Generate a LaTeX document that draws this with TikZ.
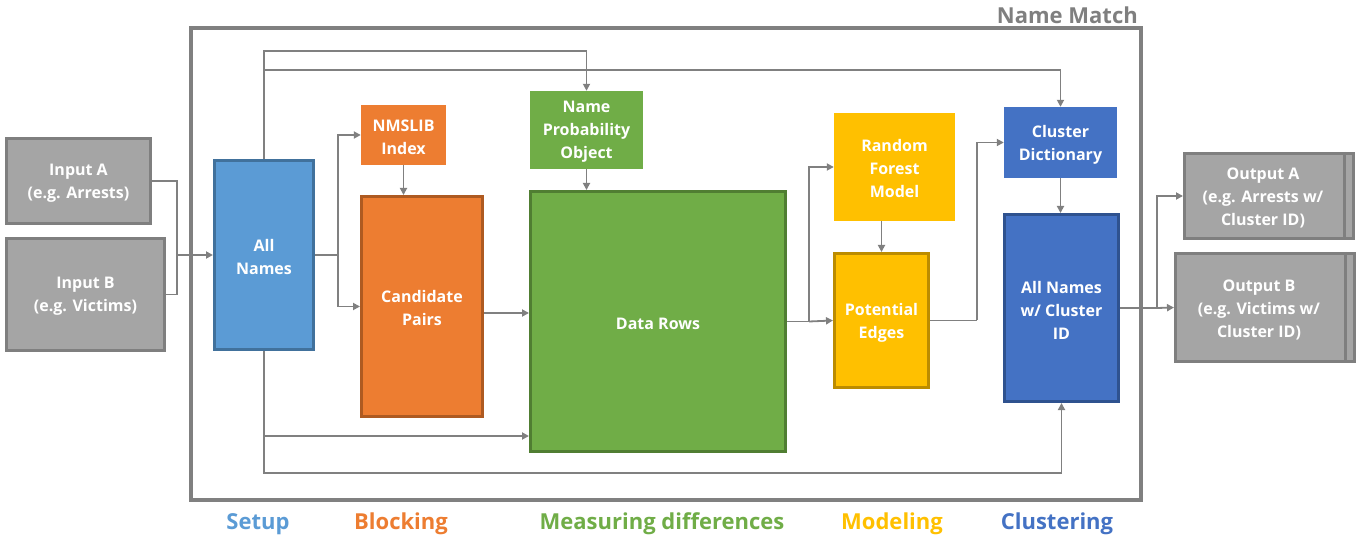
\documentclass[tikz,border=0pt]{standalone}
\usepackage{fontspec}
\setmainfont{Open Sans}
\usetikzlibrary{arrows.meta}
\definecolor{cgray}{HTML}{808080}
\definecolor{gfill}{HTML}{A5A5A5}
\definecolor{gline}{HTML}{7F7F7F}
\definecolor{cblue}{HTML}{5B9BD5}
\definecolor{cbluedk}{HTML}{41719C}
\definecolor{corange}{HTML}{ED7D31}
\definecolor{corangedk}{HTML}{AE5A21}
\definecolor{cgreen}{HTML}{70AD47}
\definecolor{cgreendk}{HTML}{507E32}
\definecolor{cyellow}{HTML}{FFC000}
\definecolor{cyellowdk}{HTML}{BC8C00}
\definecolor{cdblue}{HTML}{4472C4}
\definecolor{cdbluedk}{HTML}{2F528F}
\tikzset{
  txt/.style={inner sep=0pt, align=center, text=white, yshift=-2pt,
    font=\fontsize{16}{23}\selectfont\bfseries},
  box/.style={rectangle, inner sep=0pt, label={[txt]center:{#1}}},
  bordered/.style={box={#1}, line width=3pt},
  conn/.style={draw=cgray, line width=1.8pt},
  arr/.style={conn, -{Triangle[length=7pt,width=7pt]}},
  phase/.style={font=\fontsize{22}{26}\selectfont\bfseries, inner sep=0pt}
}
\begin{document}
\begin{tikzpicture}[x=1pt,y=-1pt]
\useasboundingbox (0,0) rectangle (1363,537);
% frame
\draw[draw=cgray, line width=4pt] (191,28) rectangle (1141,500);
\node[phase, text=gline, anchor=east] (title) at (1138,15) {Name Match};
% inputs
\node[bordered={Input A\\(e.g. Arrests)}, fill=gfill, draw=gline, minimum width=144pt, minimum height=85pt] (inA) at (78.5,181) {};
\node[bordered={Input B\\(e.g. Victims)}, fill=gfill, draw=gline, minimum width=158pt, minimum height=112pt] (inB) at (85.5,294.5) {};
% setup
\node[bordered={All\\Names}, fill=cblue, draw=cbluedk, minimum width=99pt, minimum height=189pt] (alln) at (264,255) {};
% blocking
\node[box={NMSLIB\\Index}, fill=corange, minimum width=85pt, minimum height=60pt] (nms) at (403.5,135) {};
\node[bordered={Candidate\\Pairs}, fill=corange, draw=corangedk, minimum width=121pt, minimum height=220pt] (cp) at (422,306.5) {};
% measuring
\node[box={Name\\Probability\\Object}, fill=cgreen, minimum width=113pt, minimum height=78pt] (npo) at (586.5,130) {};
\node[bordered={Data Rows}, fill=cgreen, draw=cgreendk, minimum width=255pt, minimum height=260pt] (dr) at (658,321.5) {};
% modeling
\node[box={Random\\Forest\\Model}, fill=cyellow, minimum width=121pt, minimum height=108pt] (rfm) at (894.5,167) {};
\node[bordered={Potential\\Edges}, fill=cyellow, draw=cyellowdk, minimum width=94pt, minimum height=134pt] (pe) at (881.5,320.5) {};
% clustering
\node[box={Cluster\\Dictionary}, fill=cdblue, minimum width=113pt, minimum height=71pt] (cd) at (1060.5,142.5) {};
\node[bordered={All Names\\w/ Cluster\\ID}, fill=cdblue, draw=cdbluedk, minimum width=114pt, minimum height=187pt] (anc) at (1061.5,308) {};
% outputs
\node[bordered={}, fill=gfill, draw=gline, minimum width=169pt, minimum height=85pt] (outA) at (1269,196) {};
\node[txt] (outAt) at (1263,196) {Output A\\(e.g. Arrests w/\\Cluster ID)};
\draw[draw=gline, line width=3pt] ([xshift=-10.5pt]outA.north east) -- ([xshift=-10.5pt]outA.south east);
\node[bordered={}, fill=gfill, draw=gline, minimum width=179pt, minimum height=108pt] (outB) at (1265,307.5) {};
\node[txt] (outBt) at (1259,307.5) {Output B\\(e.g. Victims w/\\Cluster ID)};
\draw[draw=gline, line width=3pt] ([xshift=-10.5pt]outB.north east) -- ([xshift=-10.5pt]outB.south east);
% junction coordinates
\coordinate (jin) at (177,255);
\coordinate (t1) at (264,51);
\coordinate (t2) at (264,70);
\coordinate (jb) at (338,255);
\coordinate (jm) at (809,321.5);
\coordinate (jp) at (977,320.5);
\coordinate (b1) at (264,436);
\coordinate (b2) at (264,473);
\coordinate (jo) at (1157,308);
% connectors
\draw[conn] (inA.east) -| (jin);
\draw[conn] (inB.east) -| (jin);
\draw[arr] (jin) -- (alln.west);
\draw[arr] (alln.north) -- (t1) -| (npo.north);
\draw[arr] (t2) -| (cd.north);
\draw[conn] (alln.east) -- (jb);
\draw[arr] (jb) |- (nms.west);
\draw[arr] (jb) |- (cp.west);
\draw[arr] (nms.south) -- (nms.south |- cp.north);
\draw[arr] ([yshift=-6.5pt]cp.east) -- ([yshift=-6.5pt]cp.east -| dr.west);
\draw[arr] (npo.south) -- (npo.south |- dr.north);
\draw[conn] (dr.east) -- (jm);
\draw[arr] (jm) |- (rfm.west);
\draw[arr] (jm) -- (pe.west);
\draw[arr] (rfm.south -| pe.north) -- (pe.north);
\draw[conn] (pe.east) -- (jp);
\draw[arr] (jp) |- (cd.west);
\draw[arr] (cd.south) -- (cd.south |- anc.north);
\draw[arr] (alln.south) -- (b2) -| (anc.south);
\draw[arr] (b1) -- (b1 -| dr.west);
\draw[conn] (anc.east) -- (jo);
\draw[arr] (jo) |- (outA.west);
\draw[arr] (jo) -- (outB.west);
% phase labels
\node[phase, text=cblue] (lsetup) at (258,524) {Setup};
\node[phase, text=corange] (lblock) at (401,524) {Blocking};
\node[phase, text=cgreen] (lmeas) at (662,524) {Measuring differences};
\node[phase, text=cyellow] (lmodel) at (892,524) {Modeling};
\node[phase, text=cdblue] (lclust) at (1057,524) {Clustering};
\end{tikzpicture}
\end{document}
